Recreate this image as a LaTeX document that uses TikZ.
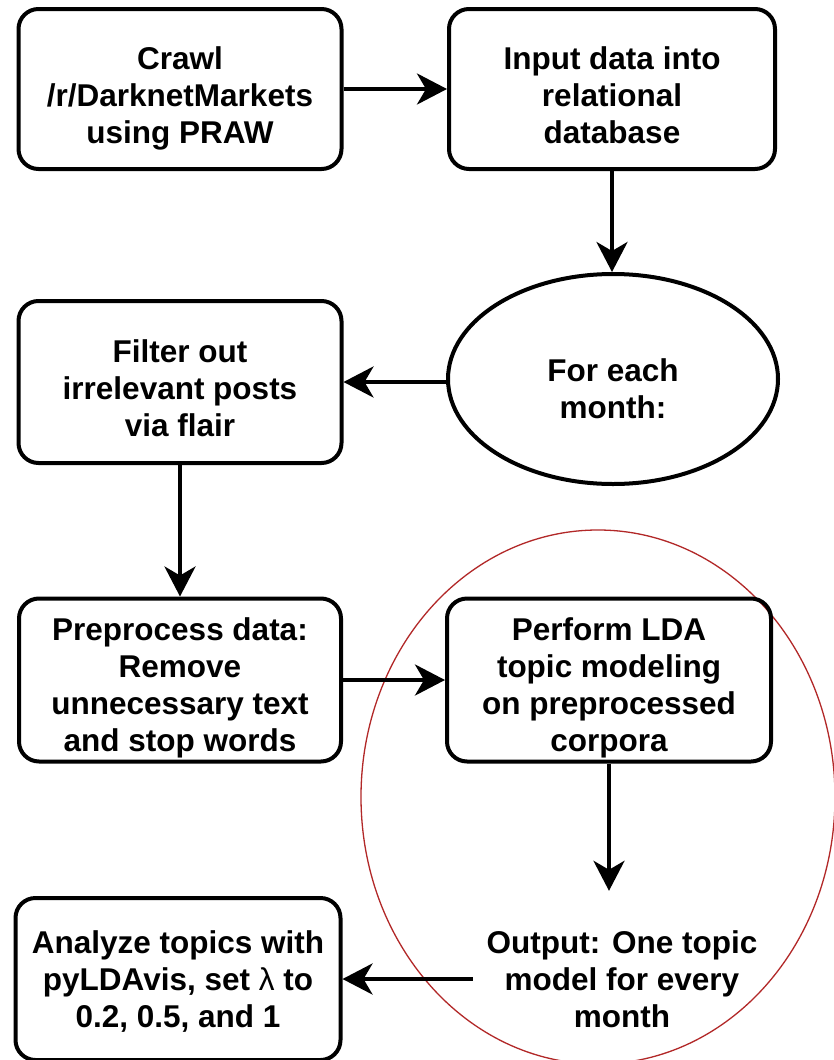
\documentclass[tikz,border=0pt]{standalone}
\usepackage{fontspec}
\setmainfont{Liberation Sans}
\usetikzlibrary{arrows.meta,shapes.geometric}
\newcommand\lowtext[2]{\raisebox{-#1}[\height][\depth]{\begin{tabular}{@{}c@{}}#2\end{tabular}}}
\begin{document}
\begin{tikzpicture}[x=1pt,y=-1pt,
  every node/.style={font=\fontsize{31.5}{37}\selectfont\bfseries, align=center},
  stepbox/.style={draw, line width=4pt, rounded corners=20pt, inner sep=0pt},
  flow/.style={line width=4pt, -{Stealth[length=30pt,width=31pt,inset=9pt]}},
  redring/.style={draw={rgb,255:red,178;green,40;blue,40}, line width=1.3pt}
]
\useasboundingbox (0,0) rectangle (834,1060);
\fill[white] (0,0) rectangle (834,1060);

\draw[redring] (598,797) ellipse [x radius=237, y radius=267];

\node[stepbox, minimum width=323, minimum height=160] (b1) at (180,89) {\lowtext{10pt}{Crawl\\/r/DarknetMarkets\\using PRAW}};
\node[stepbox, minimum width=326, minimum height=160] (b2) at (612,89) {\lowtext{10pt}{Input data into\\relational\\database}};
\node[draw, line width=4pt, ellipse, minimum width=330, minimum height=210, inner sep=0pt] (e1) at (613,379) {\lowtext{14pt}{For each\\month:}};
\node[stepbox, minimum width=323, minimum height=162] (b3) at (180,382) {\lowtext{10pt}{Filter out\\irrelevant posts\\via flair}};
\node[stepbox, minimum width=322, minimum height=163] (b4) at (180,680) {\lowtext{9pt}{Preprocess data:\\Remove\\unnecessary text\\and stop words}};
\node[stepbox, minimum width=324, minimum height=163] (b5) at (609,680) {\lowtext{9pt}{Perform LDA\\topic modeling\\on preprocessed\\corpora}};
\node[minimum width=298, minimum height=176, inner sep=0pt] (out) at (622,979) {Output: One topic\\model for every\\month};
\node[stepbox, minimum width=325, minimum height=162] (b6) at (178,979) {\lowtext{4pt}{Analyze topics with\\pyLDAvis, set \textmd{λ} to\\0.2, 0.5, and 1}};

\draw[flow] (b1) -- (b2);
\draw[flow] (b2.south) -- (b2.south |- e1.north);
\draw[flow] (e1.west |- b3) -- (b3);
\draw[flow] (b3) -- (b4);
\draw[flow] (b4) -- (b5);
\draw[flow] (b5.south) -- (b5.south |- out.north);
\draw[flow] (out) -- (b6);
\end{tikzpicture}
\end{document}
